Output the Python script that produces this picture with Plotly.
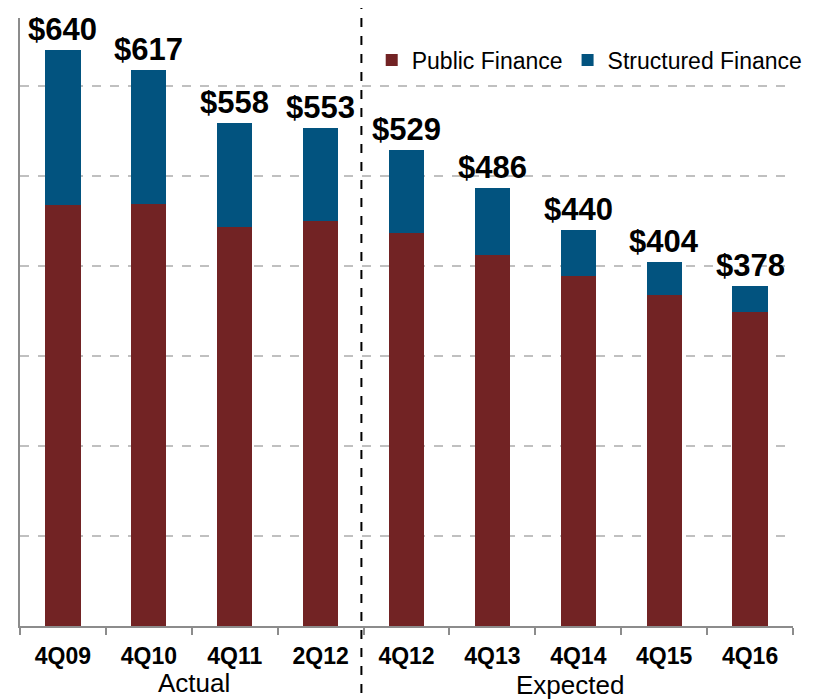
import plotly.graph_objects as go

categories = ["4Q09", "4Q10", "4Q11", "2Q12", "4Q12", "4Q13", "4Q14", "4Q15", "4Q16"]
public_finance = [467, 468, 443, 450, 436, 412, 389, 367, 349]
structured_finance = [173, 149, 115, 103, 93, 74, 51, 37, 29]
totals = [640, 617, 558, 553, 529, 486, 440, 404, 378]
group_labels = ["Actual", "Expected"]

RED = "#722324"
BLUE = "#02537F"
FONT = "Liberation Sans, Arial, sans-serif"

fig = go.Figure()
fig.add_trace(go.Bar(x=categories, y=public_finance, name="Public Finance",
                     marker=dict(color=RED, line=dict(width=0)), width=0.41))
fig.add_trace(go.Bar(x=categories, y=structured_finance, name="Structured Finance",
                     marker=dict(color=BLUE, line=dict(width=0)), width=0.41))

for c, t in zip(categories, totals):
    fig.add_annotation(x=c, y=t, xref="x", yref="y", text=f"${t}", showarrow=False,
                       yanchor="bottom", yshift=1,
                       font=dict(family=FONT, size=31, color="black", weight="bold"))

fig.add_annotation(x=1.52, y=-0.094, xref="x", yref="paper", text=group_labels[0],
                   showarrow=False, yanchor="middle",
                   font=dict(family=FONT, size=26, color="black"))
fig.add_annotation(x=5.9, y=-0.097, xref="x", yref="paper", text=group_labels[1],
                   showarrow=False, yanchor="middle",
                   font=dict(family=FONT, size=26, color="black"))

fig.add_shape(type="line", xref="x", yref="paper", x0=3.475, x1=3.475, y0=-0.14, y1=1.022,
              line=dict(color="black", width=2, dash="dash"))

# page is offset by the browser's 8px body margin; size figure to fit 823x700
fig.update_layout(
    width=815, height=692,
    margin=dict(l=12, r=30, t=10, b=74),
    paper_bgcolor="white", plot_bgcolor="white",
    barmode="stack", bargap=0.59,
    showlegend=True,
    legend=dict(orientation="h", x=0.455, xanchor="left", y=0.931, yanchor="middle",
                traceorder="normal", font=dict(family=FONT, size=23, color="black"),
                bgcolor="rgba(0,0,0,0)"),
    xaxis=dict(showline=True, linecolor="#8c8c8c", linewidth=2,
               ticks="outside", tickson="boundaries", ticklen=7, tickcolor="#8c8c8c",
               tickwidth=1.5, ticklabelstandoff=8,
               tickfont=dict(family=FONT, size=23, color="black", weight="bold"),
               showgrid=False),
    yaxis=dict(range=[0, 675], dtick=100, showticklabels=False, showline=True,
               linecolor="#8c8c8c", linewidth=2, showgrid=True, gridcolor="#c0c0c0",
               griddash="dash", gridwidth=2, zeroline=False, ticks=""),
)

fig.write_html("out.html")
